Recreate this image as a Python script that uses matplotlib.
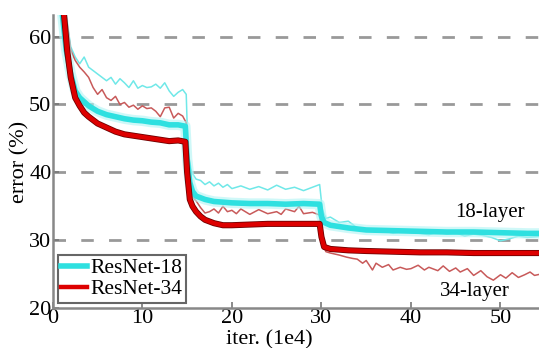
# ResNet-18 vs ResNet-34 training curves (thin = train, bold = val)
import matplotlib.pyplot as plt

plt.rcParams['font.family'] = ['Liberation Serif', 'DejaVu Serif']

# bold curves (validation error)
val18_x = [1.0, 1.5, 2, 2.5, 3, 4, 5, 6, 7, 8, 9, 10, 11, 12, 13, 14, 14.8, 15.0, 15.3, 15.6, 16, 17, 18,
           19, 20, 22, 24, 26, 28, 29.8, 30.0, 30.3, 31, 33, 35, 38, 41, 44, 47, 50, 53, 54.5]
val18_y = [64, 58, 54.5, 52, 51, 49.8, 49.0, 48.5, 48.2, 47.9, 47.7, 47.6, 47.4, 47.3, 47.0, 47.0, 46.8, 42,
           38.5, 37.2, 36.5, 36.0, 35.7, 35.6, 35.5, 35.4, 35.4, 35.3, 35.4, 35.3, 33.5, 32.6, 32.2, 31.8,
           31.5, 31.4, 31.3, 31.2, 31.2, 31.1, 31.0, 31.0]

val34_x = [1.2, 1.6, 2, 2.5, 3, 3.5, 4, 5, 6, 7, 8, 9, 10, 11, 12, 13, 14, 14.8, 15.0, 15.3, 15.6, 16, 16.5,
           17, 18, 19, 20, 22, 24, 26, 28, 29.8, 30.0, 30.3, 31, 33, 35, 38, 41, 44, 47, 50, 53, 54.5]
val34_y = [64, 58, 54, 51, 49.8, 48.8, 48.2, 47.2, 46.6, 46.0, 45.6, 45.4, 45.2, 45.0, 44.8, 44.6, 44.7, 44.5,
           40, 36, 35, 34.2, 33.5, 33.0, 32.5, 32.2, 32.2, 32.3, 32.4, 32.4, 32.4, 32.4, 30.5, 29.0, 28.7,
           28.5, 28.4, 28.3, 28.2, 28.2, 28.1, 28.1, 28.1, 28.1]

# thin curves (training error)
train18_x = [1.5, 2, 2.5, 3, 3.5, 4, 4.5, 5, 5.5, 6, 6.5, 7, 7.5, 8, 8.5, 9, 9.5, 10, 10.5, 11, 11.5, 12,
             12.5, 13, 13.5, 14, 14.5, 14.9, 15.1, 15.5, 16, 16.5, 17, 17.5, 18, 18.5, 19, 19.5, 20, 21, 22,
             23, 24, 25, 26, 27, 28, 29, 29.8, 30.1, 30.5, 31, 31.5, 32, 33, 34, 35, 36, 37, 38, 39, 40, 41,
             42, 43, 44, 45, 46, 47, 48, 49, 50, 51, 52, 53, 54, 54.5]
train18_y = [63, 58.5, 57, 56, 57, 55.5, 55, 54.5, 54, 53.5, 54, 53, 53.8, 53.2, 52.5, 53.5, 52.4, 52.8,
             52.5, 52.6, 53.0, 52.4, 53.2, 52.0, 51.2, 51.8, 52.2, 51.5, 43, 40, 39, 38.8, 38.2, 38.6, 38.0,
             38.4, 37.8, 38.2, 37.6, 38.0, 37.5, 37.9, 37.4, 38.1, 37.5, 37.8, 37.3, 37.8, 38.2, 34.5, 33.2,
             33.4, 33.0, 32.6, 32.8, 31.8, 31.6, 31.2, 31.4, 31.0, 31.3, 31.1, 31.0, 30.8, 31.2, 30.9, 31.1,
             30.6, 30.9, 30.7, 30.4, 29.9, 30.2, 30.6, 30.4, 30.5, 30.6]

train34_x = [1.5, 2, 2.5, 3, 3.5, 4, 4.5, 5, 5.5, 6, 6.5, 7, 7.5, 8, 8.5, 9, 9.5, 10, 10.5, 11, 11.5, 12,
             12.5, 13, 13.5, 14, 14.5, 14.9, 15.1, 15.5, 16, 16.5, 17, 17.5, 18, 18.5, 19, 19.5, 20, 20.5,
             21, 22, 23, 24, 25, 25.5, 26, 27, 27.5, 28, 29, 29.8, 30.1, 30.5, 31, 32, 32.8, 33.5, 34, 34.6,
             35, 35.7, 36.1, 36.8, 37.5, 38, 38.8, 39.5, 40, 40.8, 41.5, 42, 43, 43.6, 44.3, 45, 45.5, 46.3,
             47, 47.8, 48.5, 49.2, 50, 50.6, 51.3, 52, 52.7, 53.3, 53.8, 54.5]
train34_y = [63, 58, 56.5, 55.5, 54.8, 54.0, 52.5, 51.5, 52.2, 51.0, 50.6, 51.2, 50.0, 50.3, 49.6, 49.9,
             49.3, 49.8, 49.4, 49.5, 49.0, 48.2, 49.5, 49.6, 48.0, 48.7, 48.3, 47.3, 40, 36.5, 35.8, 34.8,
             34.0, 34.2, 34.6, 34.0, 35.0, 34.2, 34.4, 33.9, 34.6, 33.8, 34.5, 33.9, 34.2, 33.8, 34.6, 34.2,
             35.0, 33.9, 34.1, 33.7, 29.5, 28.3, 28.1, 27.8, 27.5, 27.3, 27.2, 26.6, 27.0, 25.6, 26.6, 26.0,
             26.4, 25.6, 26.0, 25.7, 25.8, 26.3, 25.6, 26.0, 25.5, 26.2, 25.4, 25.9, 25.3, 25.8, 24.8, 25.5,
             24.6, 24.1, 24.9, 24.4, 25.2, 24.5, 24.9, 25.3, 24.8, 25.0]

cyan = '#2ee0e0'
red = '#dd0000'

fig = plt.figure(figsize=(5.39, 3.48), dpi=100)
ax = fig.add_axes([0.098, 0.115, 0.902, 0.842])

for y in [30, 40, 50, 60]:
    ax.axhline(y, color='#999999', lw=2, ls=(0, (4.5, 5.5)), zorder=0)

ax.plot(train18_x, train18_y, color='#70e8e8', lw=1.1, zorder=2)
ax.plot(train34_x, train34_y, color='#c85a5a', lw=1.1, zorder=2)
ax.plot(val18_x, val18_y, color='#b0f4f4', lw=7.5, alpha=0.6, zorder=3)
ax.plot(val18_x, val18_y, color=cyan, lw=4, zorder=4, label='ResNet-18')
ax.plot(val34_x, val34_y, color='#700000', lw=4.4, zorder=4)
ax.plot(val34_x, val34_y, color=red, lw=3.2, zorder=5, label='ResNet-34')

ax.text(48.8, 34.1, '18-layer', fontsize=15, ha='center', va='center')
ax.text(47.1, 22.4, '34-layer', fontsize=15, ha='center', va='center')

ax.set_xlim(0, 54.3)
ax.set_ylim(20, 63.2)
ax.set_xticks([0, 10, 20, 30, 40, 50])
ax.set_yticks([20, 30, 40, 50, 60])
ax.tick_params(direction='in', length=4, width=1.2, color='#777777', labelsize=16, pad=1)
ax.set_xlabel('iter. (1e4)', fontsize=16)
ax.xaxis.set_label_coords(0.445, -0.075)
ax.set_ylabel('error (%)', fontsize=16, labelpad=0)

for s in ['top', 'right']:
    ax.spines[s].set_visible(False)
for s in ['left', 'bottom']:
    ax.spines[s].set_color('#888888')
    ax.spines[s].set_linewidth(1.8)

leg = ax.legend(loc='lower left', fontsize=15.5, fancybox=False, framealpha=1, edgecolor='#666666',
                handlelength=1.2, handletextpad=0.15, borderpad=0.15, labelspacing=0.05,
                borderaxespad=0.25)
leg.get_frame().set_linewidth(1.5)

fig.savefig('out.png', dpi=100)
